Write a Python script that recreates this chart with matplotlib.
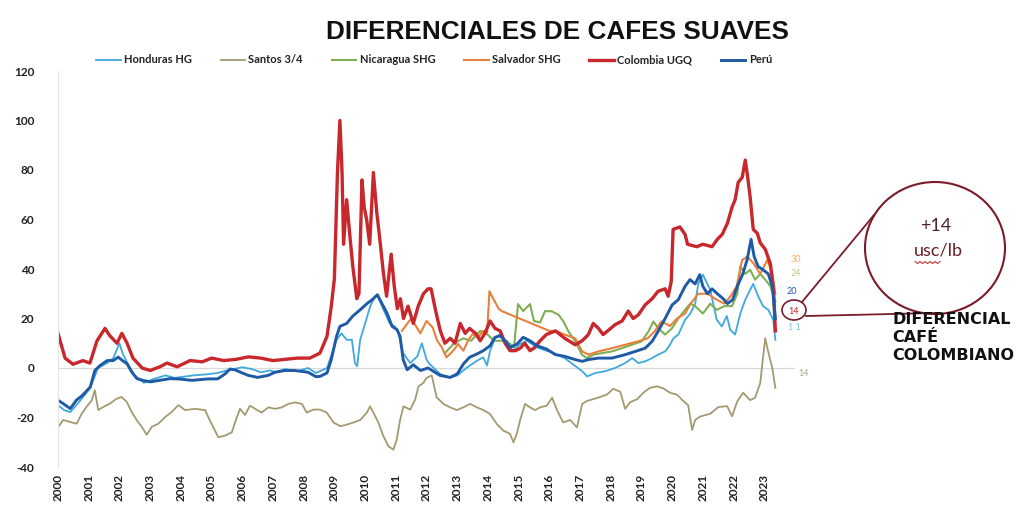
import matplotlib
matplotlib.use("Agg")
import matplotlib.pyplot as plt
from matplotlib.patches import Ellipse
from matplotlib.lines import Line2D

W, H = 1018, 507

# ---------------- data ----------------
col_x = [2000.0, 2000.23, 2000.49, 2000.81, 2001.04, 2001.27, 2001.53, 2001.69, 2001.92, 2002.08,
         2002.25, 2002.44, 2002.74, 2003.0, 2003.32, 2003.55, 2003.88, 2004.3, 2004.7, 2005.0,
         2005.4, 2005.8, 2006.2, 2006.6, 2007.0, 2007.4, 2007.8, 2008.2, 2008.53, 2008.76,
         2008.9, 2009.0, 2009.1, 2009.18, 2009.25, 2009.3, 2009.4, 2009.5, 2009.6, 2009.73,
         2009.8, 2009.9, 2009.97, 2010.05, 2010.15, 2010.27, 2010.38, 2010.48, 2010.6, 2010.7,
         2010.85, 2010.95, 2011.05, 2011.15, 2011.25, 2011.4, 2011.57, 2011.73, 2011.9, 2012.05,
         2012.15, 2012.3, 2012.45, 2012.6, 2012.77, 2012.93, 2013.1, 2013.26, 2013.4, 2013.6,
         2013.75, 2013.9, 2014.07, 2014.23, 2014.4, 2014.56, 2014.72, 2014.9, 2015.05, 2015.2,
         2015.37, 2015.5, 2015.7, 2015.9, 2016.2, 2016.5, 2016.84, 2017.07, 2017.27, 2017.43,
         2017.6, 2017.75, 2017.9, 2018.14, 2018.37, 2018.57, 2018.73, 2018.9, 2019.12, 2019.35,
         2019.54, 2019.77, 2019.87, 2019.97, 2020.03, 2020.25, 2020.42, 2020.5, 2020.8, 2021.0,
         2021.3, 2021.47, 2021.63, 2021.8, 2021.95, 2022.05, 2022.15, 2022.28, 2022.38, 2022.45,
         2022.54, 2022.64, 2022.77, 2022.87, 2023.03, 2023.2, 2023.3, 2023.36]
col_y = [14, 4, 1.5, 3, 2, 11, 16, 13, 10, 14,
         10, 4, 0, -1, 0.5, 2, 0.5, 3, 2.5, 4,
         3, 3.5, 4.5, 4, 3, 3.5, 4, 4, 6, 12.8,
         25, 36, 79, 100, 79, 50, 68, 54, 41, 28,
         30, 76, 65, 60, 50, 79, 63, 52, 38, 29,
         46, 33, 24, 28, 20, 25, 18, 25, 30, 32,
         32, 23, 15, 10, 12, 10, 18, 14, 16, 14,
         11, 14, 19, 16, 15, 10, 7, 7, 8, 10,
         7, 8, 11, 13.5, 15, 12, 9.4, 11, 13.5, 18,
         16, 13.5, 15, 17.5, 19, 23, 20, 21.5, 25.5, 28,
         31, 32, 29, 35, 56, 57, 54, 50, 49, 50,
         49, 52, 54, 58.5, 65, 68, 75, 77, 84, 78,
         69, 56, 54.5, 50.5, 48, 42, 31.6, 15]

peru_x = [2000.0, 2000.17, 2000.4, 2000.6, 2000.8, 2001.05, 2001.2, 2001.37, 2001.6, 2001.8,
          2001.96, 2002.1, 2002.25, 2002.4, 2002.57, 2002.77, 2003.0, 2003.3, 2003.65, 2004.0,
          2004.36, 2004.9, 2005.2, 2005.44, 2005.6, 2005.77, 2006.0, 2006.2, 2006.5, 2006.84,
          2007.07, 2007.4, 2007.7, 2008.14, 2008.4, 2008.53, 2008.76, 2008.9, 2009.07, 2009.18,
          2009.4, 2009.6, 2009.84, 2010.06, 2010.27, 2010.4, 2010.55, 2010.72, 2010.88, 2011.04,
          2011.14, 2011.24, 2011.37, 2011.57, 2011.8, 2012.05, 2012.44, 2012.77, 2013.0, 2013.2,
          2013.4, 2013.65, 2013.85, 2014.07, 2014.23, 2014.4, 2014.56, 2014.72, 2014.95, 2015.15,
          2015.37, 2015.6, 2015.9, 2016.2, 2016.5, 2016.84, 2017.07, 2017.27, 2017.6, 2018.04,
          2018.47, 2018.8, 2019.12, 2019.35, 2019.54, 2019.77, 2020.0, 2020.2, 2020.42, 2020.58,
          2020.75, 2020.9, 2021.0, 2021.15, 2021.3, 2021.47, 2021.66, 2021.8, 2021.97, 2022.12,
          2022.3, 2022.44, 2022.57, 2022.67, 2022.8, 2022.96, 2023.13, 2023.26, 2023.36]
peru_y = [-13, -14.4, -16.4, -13, -11, -7.7, -1, 1, 3, 3,
          4.4, 3, 1.7, -1.6, -4.3, -5, -5.6, -5, -4.3, -4.5,
          -5, -4.4, -4.4, -2.4, -0.4, -0.8, -2, -3, -3.8, -3,
          -1.7, -1, -1, -1.7, -3.5, -3.4, -2, 3.4, 12.8, 16.8,
          18, 21, 23.5, 26, 28, 29.6, 26, 22, 16.8, 15.5,
          12.8, 3.4, -0.7, 1.3, -1, 0, -3, -3.8, -2.4, 1.6,
          4.3, 5.7, 7, 9, 12.4, 13, 11, 8.3, 9.7, 12.4,
          11, 9, 7.7, 5.4, 4.7, 3.4, 2.7, 3.4, 4, 4,
          5.4, 6.7, 8, 10.8, 14.8, 20, 25.5, 27.6, 33, 35.7,
          34, 37.7, 33, 30, 32, 30, 28, 26, 27.6, 33,
          38, 43.7, 52, 45, 41, 39.7, 38, 33, 20]

hond_x = [2000.0, 2000.2, 2000.4, 2000.6, 2000.8, 2001.05, 2001.3, 2001.6, 2001.8, 2002.0,
          2002.1, 2002.3, 2002.5, 2002.8, 2003.1, 2003.5, 2003.8, 2004.4, 2004.9, 2005.2,
          2005.5, 2006.0, 2006.3, 2006.6, 2006.9, 2007.1, 2007.4, 2007.8, 2008.14, 2008.4,
          2008.76, 2009.07, 2009.23, 2009.4, 2009.57, 2009.67, 2009.74, 2009.84, 2010.0, 2010.17,
          2010.32, 2010.42, 2010.6, 2010.8, 2010.97, 2011.08, 2011.24, 2011.47, 2011.7, 2011.85,
          2012.0, 2012.1, 2012.44, 2012.77, 2013.0, 2013.3, 2013.65, 2013.85, 2013.97, 2014.07,
          2014.23, 2014.4, 2014.62, 2014.82, 2015.05, 2015.27, 2015.6, 2015.9, 2016.1, 2016.5,
          2017.07, 2017.23, 2017.5, 2017.82, 2018.14, 2018.47, 2018.7, 2018.9, 2019.12, 2019.35,
          2019.54, 2019.77, 2019.93, 2020.04, 2020.2, 2020.42, 2020.59, 2020.75, 2020.85, 2021.0,
          2021.24, 2021.45, 2021.62, 2021.78, 2021.89, 2022.05, 2022.22, 2022.38, 2022.54, 2022.64,
          2022.8, 2022.96, 2023.13, 2023.29, 2023.36]
hond_y = [-15, -17, -17.8, -15, -12, -8, 0, 2, 4, 10,
          6, 1, -3, -6, -4.5, -3, -4, -3, -2.5, -2,
          -1, 0.3, -0.4, -1.7, -1, -1.7, -0.4, -1.3, 0, -2,
          0, 11.4, 14, 11.4, 11.4, 2, 0.7, 11.4, 18, 25,
          29, 29, 23.5, 18, 16.8, 14, 6, 2, 4.7, 10,
          3.4, 1.6, -2.4, -3.8, -3, 0, 3, 4.3, 1, 7,
          12, 13.7, 9.7, 7, 9.7, 11, 8.3, 7, 6.3, 4,
          -1.3, -3.4, -2, -1.3, 0, 2, 4, 2, 2.7, 4,
          5.4, 6.7, 9.4, 12, 13.5, 19.5, 22, 26, 34, 37.7,
          31.6, 19.5, 16.8, 21, 15.5, 13.5, 22, 27.6, 31.6, 34,
          29, 25, 23.5, 19.5, 11.4]

salv_x = [2011.2, 2011.5, 2011.8, 2012.0, 2012.2, 2012.35, 2012.5, 2012.65, 2012.87, 2013.03,
          2013.2, 2013.35, 2013.5, 2013.67, 2013.85, 2013.97, 2014.05, 2014.15, 2014.35, 2014.45,
          2016.0, 2016.2, 2016.5, 2016.84, 2017.07, 2017.27, 2017.6, 2018.04, 2018.47, 2018.9,
          2019.2, 2019.43, 2019.65, 2019.93, 2020.16, 2020.42, 2020.6, 2020.85, 2021.15, 2021.45,
          2021.7, 2021.9, 2022.1, 2022.28, 2022.45, 2022.64, 2022.87, 2023.1, 2023.26, 2023.36]
salv_y = [15, 20, 14, 19, 16.4, 11, 8.3, 4.3, 7, 9.7,
          7, 11, 13.7, 12.4, 15, 13.7, 31, 28.5, 24, 23,
          15, 15, 13.5, 12, 6.7, 5.4, 6.7, 8, 9.4, 10.8,
          12, 14.8, 18.8, 17, 20, 22, 26, 30, 30, 27.6,
          26, 29, 33, 43.7, 45, 42.4, 38, 43.7, 38, 30]

nica_x = [2012.6, 2012.9, 2013.2, 2013.45, 2013.75, 2013.97, 2014.2, 2014.6, 2014.85, 2014.98,
          2015.15, 2015.37, 2015.5, 2015.7, 2015.86, 2016.08, 2016.3, 2016.46, 2016.62, 2016.84,
          2017.06, 2017.22, 2017.44, 2017.71, 2018.04, 2018.36, 2018.69, 2019.01, 2019.23, 2019.39,
          2019.55, 2019.77, 2019.99, 2020.2, 2020.42, 2020.59, 2020.75, 2021.0, 2021.24, 2021.45,
          2021.7, 2021.95, 2022.12, 2022.22, 2022.38, 2022.54, 2022.7, 2022.87, 2023.03, 2023.2,
          2023.36]
nica_y = [6, 10, 12, 11, 15, 13.7, 11, 11, 8.3, 25.8,
          23, 25.8, 19, 18.4, 23, 22.9, 21.5, 18.8, 14.8, 10.8,
          5.4, 4, 5.4, 6, 6.7, 8, 9.4, 10.8, 14.8, 18.8,
          16, 13.5, 16, 20, 23.5, 26, 25, 22, 26, 23.5,
          25, 25, 30, 41, 38, 39.7, 35.7, 38, 35.7, 33,
          27]

sant_x = [2000.01, 2000.17, 2000.39, 2000.61, 2000.77, 2000.93, 2001.1, 2001.2, 2001.31, 2001.48,
          2001.69, 2001.91, 2002.07, 2002.24, 2002.4, 2002.56, 2002.73, 2002.89, 2003.05, 2003.27,
          2003.49, 2003.7, 2003.92, 2004.14, 2004.46, 2004.79, 2004.9, 2005.06, 2005.22, 2005.44,
          2005.66, 2005.82, 2005.93, 2006.09, 2006.25, 2006.42, 2006.63, 2006.85, 2007.07, 2007.29,
          2007.5, 2007.72, 2007.94, 2008.1, 2008.32, 2008.53, 2008.75, 2008.97, 2009.19, 2009.4,
          2009.62, 2009.84, 2010.06, 2010.16, 2010.27, 2010.43, 2010.6, 2010.76, 2010.92, 2011.03,
          2011.14, 2011.25, 2011.47, 2011.63, 2011.74, 2011.9, 2012.0, 2012.17, 2012.33, 2012.55,
          2012.77, 2012.99, 2013.2, 2013.42, 2013.64, 2013.85, 2014.07, 2014.29, 2014.5, 2014.72,
          2014.83, 2014.94, 2015.05, 2015.21, 2015.37, 2015.54, 2015.7, 2015.92, 2016.09, 2016.25,
          2016.45, 2016.68, 2016.9, 2017.07, 2017.23, 2017.56, 2017.88, 2018.08, 2018.31, 2018.47,
          2018.63, 2018.86, 2019.06, 2019.28, 2019.51, 2019.71, 2019.93, 2020.16, 2020.36, 2020.52,
          2020.65, 2020.75, 2020.91, 2021.24, 2021.5, 2021.79, 2021.95, 2022.12, 2022.31, 2022.54,
          2022.7, 2022.87, 2022.93, 2023.03, 2023.13, 2023.26, 2023.36]
sant_y = [-23.8, -21, -21.8, -22.5, -18.5, -15.7, -13, -9, -17, -15.7,
          -14.4, -12.4, -11.7, -13.7, -17.8, -21, -23.8, -27, -23.8, -22.5,
          -19.8, -17.8, -15, -17, -16.5, -17, -20, -24, -28, -27.3,
          -26, -20, -16.5, -19, -15.2, -16.5, -18, -15.9, -16.5, -15.9,
          -14.5, -13.9, -14.5, -18, -16.8, -16.8, -18, -22, -23.5, -22.9,
          -22, -21, -18, -15.5, -18, -22, -27.6, -31.6, -33, -29,
          -21, -15.5, -16.8, -12.8, -7.4, -6, -4, -3, -11.8, -14.5,
          -15.9, -17, -15.9, -14.5, -15.9, -17, -18.6, -22.6, -25.3, -26.6,
          -30, -26.6, -21, -14.5, -15.9, -17, -15.9, -15.2, -12, -17,
          -22, -21, -24, -14.5, -13.3, -12.1, -10.7, -8.4, -9.6, -16.5,
          -13.8, -12.6, -10, -8, -7.4, -8.2, -10, -10.8, -13.3, -15,
          -25, -21, -19.6, -18.5, -15.8, -15.4, -19.5, -13.5, -10, -13,
          -12, -6, 1, 12, 6.5, 0, -8]

series = [
    ("Honduras HG", hond_x, hond_y, "#3ea8e0", 1.3),
    ("Santos 3/4", sant_x, sant_y, "#a39a72", 1.3),
    ("Nicaragua SHG", nica_x, nica_y, "#7fae55", 1.5),
    ("Salvador SHG", salv_x, salv_y, "#e8803c", 1.5),
    ("Colombia UGQ", col_x, col_y, "#c8282c", 2.4),
    ("Perú", peru_x, peru_y, "#1f5aa6", 2.1),
]

years = list(range(2000, 2024))
yticks = [-40, -20, 0, 20, 40, 60, 80, 100, 120]

# ---------------- figure ----------------
fig = plt.figure(figsize=(W / 100, H / 100), dpi=100)
ax = fig.add_axes([58 / W, 1 - 467 / H, (795 - 58) / W, (467 - 71) / H])

ax.axhline(0, color="#d9d9d9", lw=0.9, zorder=1)
handles = []
for name, xs, ys, c, lw in series:
    h, = ax.plot(xs, ys, color=c, lw=lw, label=name, zorder=2, solid_joinstyle="round")
    handles.append(h)

ax.set_xlim(2000, 2024)
ax.set_ylim(-40, 120)
ax.set_xticks(years)
ax.set_xticklabels([str(y) for y in years], rotation=90, fontsize=8.5,
                   fontweight="bold", family="Lato", color="#222222")
ax.set_yticks(yticks)
ax.set_yticklabels([str(v) for v in yticks], fontsize=8.5, fontweight="bold",
                   family="Lato", color="#222222")
ax.tick_params(axis="both", length=0)
ax.tick_params(axis="y", pad=17)
ax.tick_params(axis="x", pad=5)
for s in ["top", "right", "bottom"]:
    ax.spines[s].set_visible(False)
ax.spines["left"].set_color("#e4e4e4")
ax.spines["left"].set_linewidth(0.8)

# title and legend
fig.text(557 / W, 1 - 32 / H, "DIFERENCIALES DE CAFES SUAVES", ha="center", va="center",
         fontsize=18.8, fontweight="bold", family="Liberation Sans", color="#111111")
leg = fig.legend(handles=handles, loc="center", bbox_to_anchor=(434 / W, 1 - 60 / H),
                 ncol=6, frameon=False, prop={"family": "Lato", "weight": "bold", "size": 8},
                 handlelength=2.2, handletextpad=0.3, columnspacing=2.6)
for t in leg.get_texts():
    t.set_color("#222222")


def fx(px):
    return px / W


def fy(py):
    return 1 - py / H


# end-of-series labels
end_labels = [("30", 796, 259, "#f0b070"), ("24", 796, 274, "#b5cf85"),
              ("20", 792, 291, "#1f5aa6"), ("14", 794, 311, "#c8282c"),
              ("1 1", 794, 327, "#7cc4ea"), ("14", 804, 374, "#b0aa90")]
for txt, px, py, c in end_labels:
    fig.text(fx(px), fy(py), txt, ha="center", va="center", fontsize=6.5,
             family="Lato", color=c)

# small circle and big circle callout
dark = "#7a1b2a"
fig.patches.append(Ellipse((fx(794), fy(310)), 24 / W, 20 / H, transform=fig.transFigure,
                           fill=False, edgecolor=dark, lw=1.2))
fig.patches.append(Ellipse((fx(935), fy(248)), 140 / W, 132 / H, transform=fig.transFigure,
                           fill=False, edgecolor=dark, lw=1.5))
fig.lines.append(Line2D([fx(802), fx(874)], [fy(302), fy(215)], transform=fig.transFigure,
                        color=dark, lw=1.3))
fig.lines.append(Line2D([fx(806), fx(935)], [fy(316), fy(313)], transform=fig.transFigure,
                        color=dark, lw=1.3))
fig.text(fx(936), fy(226), "+14", ha="center", va="center", fontsize=13,
         family="Lato", color="#4a2228")
fig.text(fx(938), fy(250), "usc/lb", ha="center", va="center", fontsize=13,
         family="Lato", color="#6a1f28")
zig_x = [915 + 2.5 * i for i in range(11)]
zig_y = [262 + (1.5 if i % 2 else -0.5) for i in range(11)]
fig.lines.append(Line2D([fx(v) for v in zig_x], [fy(v) for v in zig_y],
                        transform=fig.transFigure, color="#d03030", lw=0.8))

fig.text(fx(892), fy(312), "DIFERENCIAL\nCAFÉ\nCOLOMBIANO", ha="left", va="top",
         fontsize=11.5, fontweight="bold", family="DejaVu Sans", color="#111111",
         linespacing=1.25)

fig.savefig("out.png", dpi=100, facecolor="white")
